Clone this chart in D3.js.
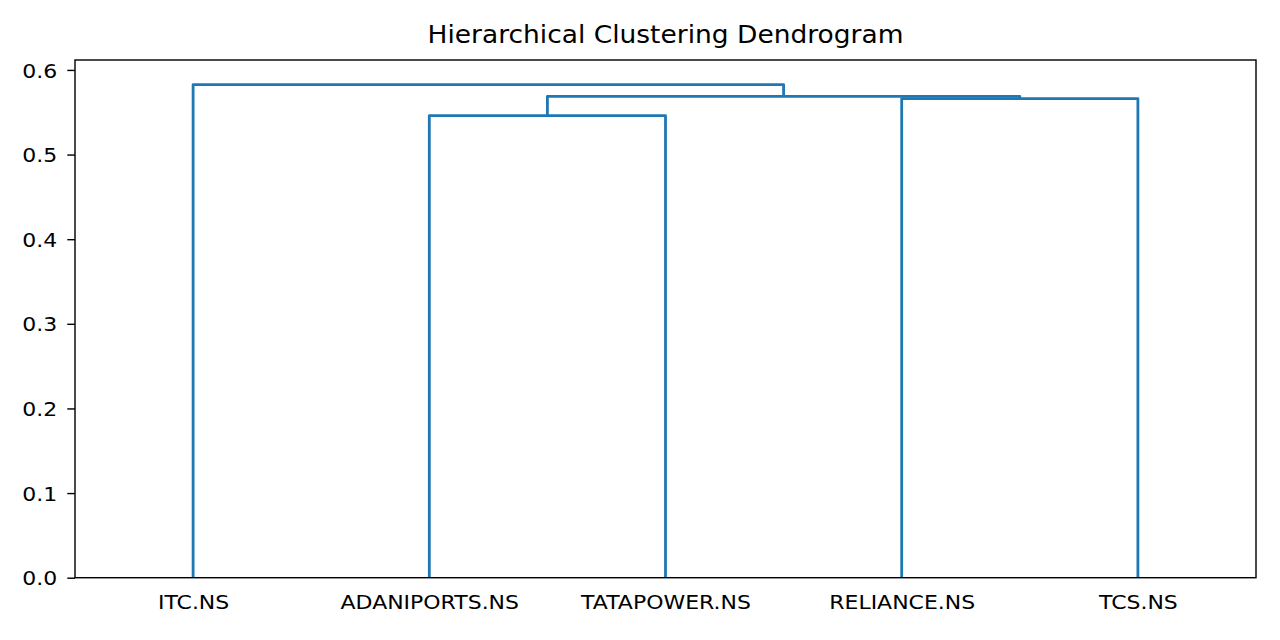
<!DOCTYPE html>
<html><head><meta charset="utf-8">
<script src="https://cdn.jsdelivr.net/npm/d3@7"></script>
<style>body{margin:0;background:#fff}svg text{font-family:"DejaVu Sans",sans-serif;fill:#000}</style>
</head><body><svg id="c" width="1280" height="640"></svg>
<script>
// Leaves in dendrogram order
const leaves = ["ITC.NS","ADANIPORTS.NS","TATAPOWER.NS","RELIANCE.NS","TCS.NS"];
// Merges: [child A, child B, height]; ids >= leaves.length refer to earlier merges
const mergeA = [1, 3, 5, 0];
const mergeB = [2, 4, 6, 7];
const mergeH = [0.546, 0.566, 0.5687, 0.5826];
const yTicks = [0.0, 0.1, 0.2, 0.3, 0.4, 0.5, 0.6];
const title = "Hierarchical Clustering Dendrogram";

const W=1280,H=640, L=75, R=1256, T=60, B=577.7;
const svg=d3.select("#c");
const x=d3.scaleLinear().domain([0,leaves.length*10]).range([L,R]);
const y=d3.scaleLinear().domain([0,d3.max(mergeH)*1.05]).range([B,T]);

// node positions
const nodeX=[], nodeY=[];
leaves.forEach((d,i)=>{nodeX.push(5+10*i);nodeY.push(0);});
mergeH.forEach((h,k)=>{
  const a=mergeA[k], b=mergeB[k];
  const xa=nodeX[a], xb=nodeX[b];
  svg.append("path")
    .attr("d",`M${x(xa)},${y(nodeY[a])}V${y(h)}H${x(xb)}V${y(nodeY[b])}`)
    .attr("fill","none").attr("stroke","#1f77b4").attr("stroke-width",2.8)
    .attr("stroke-linejoin","round");
  nodeX.push((xa+xb)/2); nodeY.push(h);
});

// axes
const fs=19.8, sx=1.11;
const ya=svg.append("g").attr("transform",`translate(${L},0)`)
  .call(d3.axisLeft(y).tickValues(yTicks).tickFormat(d3.format(".1f")).tickSize(7.7).tickPadding(9.7));
const xa=svg.append("g").attr("transform",`translate(0,${B})`)
  .call(d3.axisBottom(x).tickValues(leaves.map((d,i)=>5+10*i)).tickFormat((d,i)=>leaves[i]).tickSize(0));
[ya,xa].forEach(g=>{g.select(".domain").remove();g.selectAll("line").attr("stroke","#000").attr("stroke-width",1.42);
  g.selectAll("text").attr("font-size",fs).attr("font-family","DejaVu Sans");});
ya.selectAll("text").attr("x",0).attr("dy","0.36em").attr("transform",`translate(-17.7,0) scale(${sx},1)`);
xa.selectAll("text").attr("y",0).attr("dy",0).attr("transform",`translate(0,31.6) scale(${sx},1)`);
svg.append("rect").attr("x",L).attr("y",T).attr("width",R-L).attr("height",B-T)
  .attr("fill","none").attr("stroke","#000").attr("stroke-width",1.42);
svg.append("text").attr("text-anchor","middle")
  .attr("transform",`translate(${(L+R)/2},42.7) scale(1.09,1)`)
  .attr("font-size",24.3).text(title);
</script></body></html>
